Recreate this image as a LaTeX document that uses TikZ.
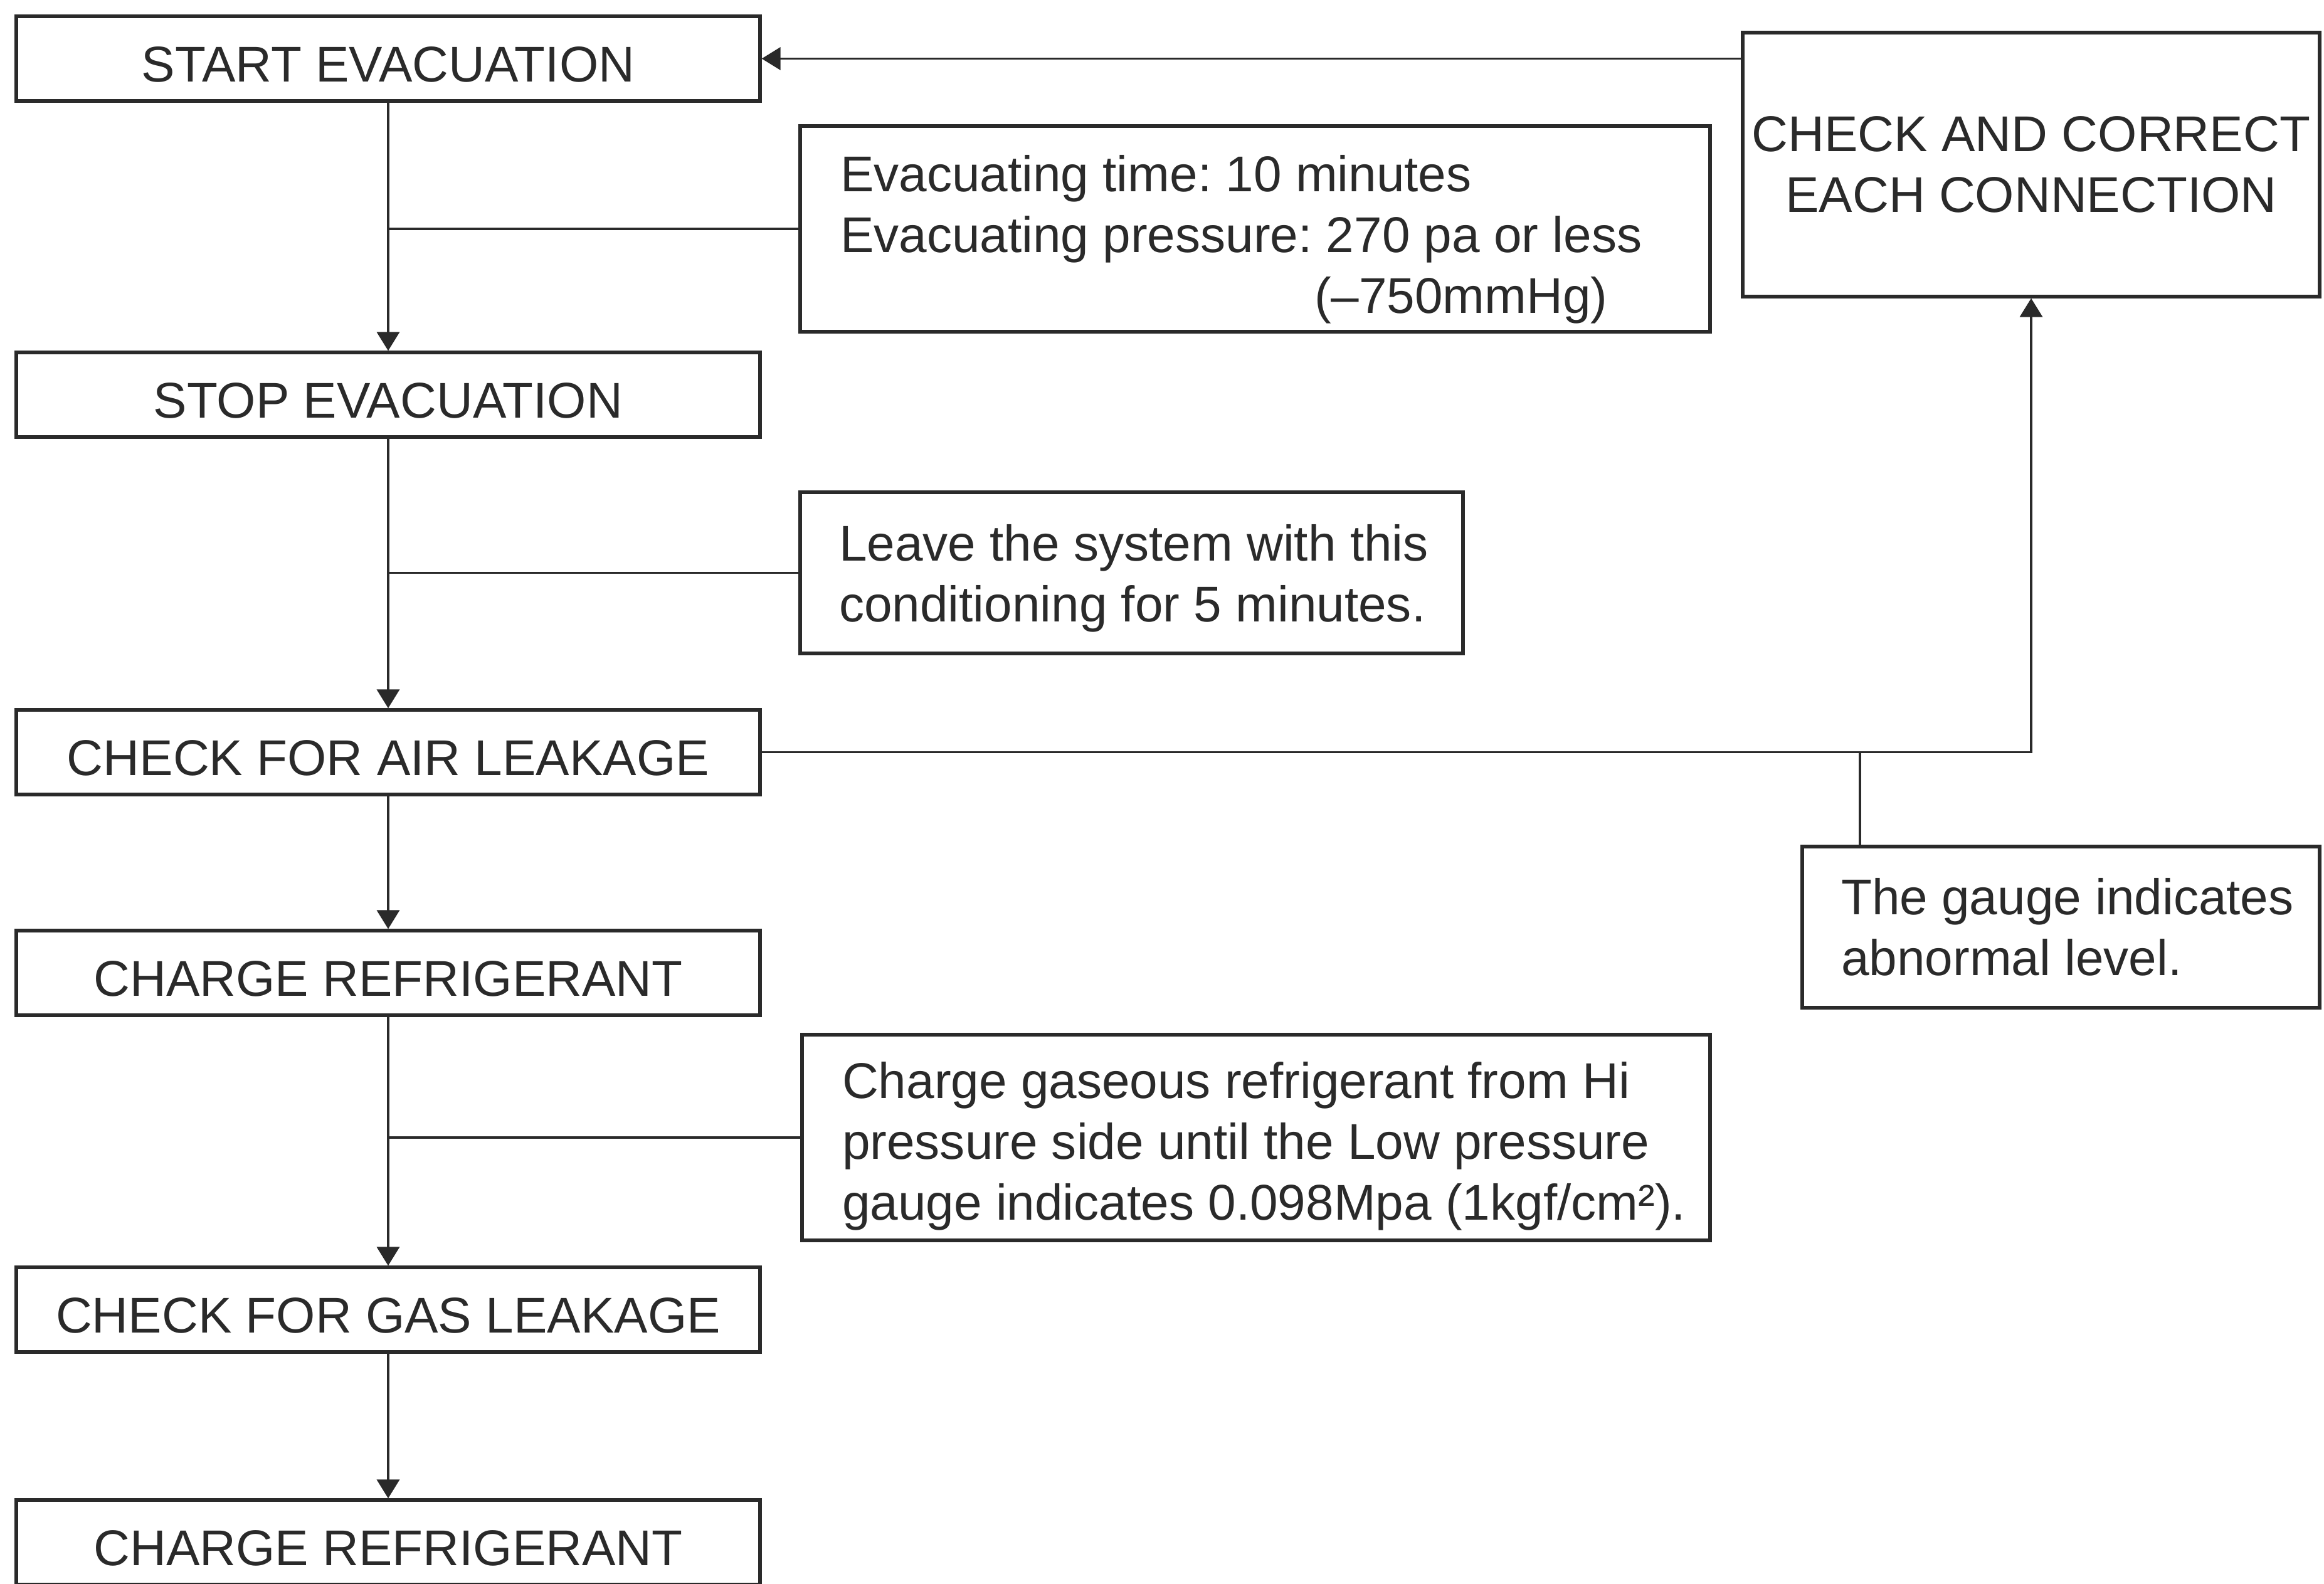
\documentclass[tikz,border=0pt]{standalone}
\usepackage{fontspec}
\setmainfont{Liberation Sans}
\usetikzlibrary{arrows.meta,calc}
\definecolor{ink}{HTML}{2A2A2A}
\begin{document}
\begin{tikzpicture}[
  x=1cm,y=1cm,
  every node/.style={font=\fontsize{22.8}{27.6}\selectfont\frenchspacing, text=ink},
  stepbox/.style={draw=ink, line width=1.5pt, minimum width=11.86cm, minimum height=1.35cm, inner sep=0pt, text height=0.74cm, text depth=0cm},
  notebox/.style={draw=ink, line width=1.5pt, inner sep=0pt},
  notetext/.style={anchor=west, align=left, inner sep=0pt},
  conn/.style={draw=ink, line width=1.1pt},
  arr/.style={conn, -{Triangle[length=0.3cm,width=0.36cm]}},
]
\clip (0,0) rectangle (37.06,-25.25);
\fill[white] (0,0) rectangle (37.06,-25.25);

% main steps
\node[stepbox] (start) at (6.19,-0.935) {START EVACUATION};
\node[stepbox] (stop) at (6.19,-6.295) {STOP EVACUATION};
\node[stepbox] (air) at (6.19,-11.995) {CHECK FOR AIR LEAKAGE};
\node[stepbox] (charge1) at (6.19,-15.515) {CHARGE REFRIGERANT};
\node[stepbox] (gas) at (6.19,-20.885) {CHECK FOR GAS LEAKAGE};
\node[stepbox] (charge2) at (6.19,-24.595) {CHARGE REFRIGERANT};

% note boxes
\node[notebox, minimum width=14.51cm, minimum height=3.28cm] (n1) at (20.015,-3.65) {};
\node[notebox, minimum width=10.57cm, minimum height=2.57cm] (n2) at (18.045,-9.135) {};
\node[notebox, minimum width=14.48cm, minimum height=3.28cm] (n3) at (20.03,-18.14) {};
\node[notebox, minimum width=8.25cm, minimum height=2.57cm] (gauge) at (32.865,-14.785) {};
\node[notebox, align=center, minimum width=9.2cm, minimum height=4.21cm] (check) at (32.39,-2.625)
  {CHECK AND CORRECT\\EACH CONNECTION};

% note texts
\node[notetext] (n1t) at ($(n1.west)+(0.66,-0.17)$)
  {Evacuating time: 10 minutes\\Evacuating pressure: 270 pa or less\\\hspace*{7.56cm}(–750mmHg)};
\node[notetext] (n2t) at ($(n2.west)+(0.64,-0.09)$)
  {Leave the system with this\\conditioning for 5 minutes.};
\node[notetext] (n3t) at ($(n3.west)+(0.66,-0.14)$)
  {Charge gaseous refrigerant from Hi\\pressure side until the Low pressure\\gauge indicates 0.098Mpa (1kgf/cm²).};
\node[notetext] (gauget) at ($(gauge.west)+(0.64,0)$)
  {The gauge indicates\\abnormal level.};

% main flow
\draw[arr] (start) -- (stop);
\draw[arr] (stop) -- (air);
\draw[arr] (air) -- (charge1);
\draw[arr] (charge1) -- (gas);
\draw[arr] (gas) -- (charge2);

% note branches
\draw[conn] (n1.west) -- (n1.west -| start.south);
\draw[conn] (n2.west) -- (n2.west -| stop.south);
\draw[conn] (n3.west) -- (n3.west -| charge1.south);

% loop back
\draw[arr] (air.east) -| (check.south);
\coordinate (gt) at ($(gauge.north west)+(0.95,0)$);
\draw[conn] (gt) -- (gt |- air.east);
\draw[arr] (check.west |- start.east) -- (start.east);
\end{tikzpicture}
\end{document}
